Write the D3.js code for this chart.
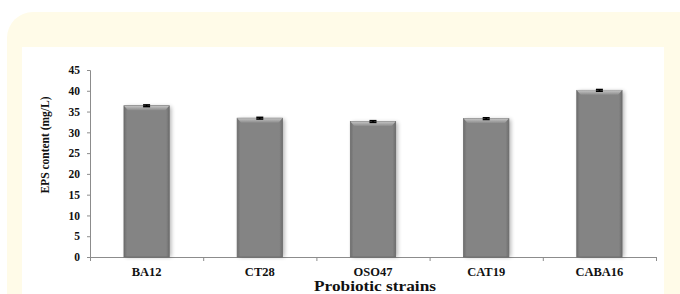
<!DOCTYPE html>
<html lang="en">
<head>
  <meta charset="UTF-8">
  <title>EPS content by probiotic strain</title>
  <script src="https://d3js.org/d3.v7.min.js"></script>
  <style>
    body { margin: 0; padding: 0; background: #fff; }
    svg { display: block; }
    .serif { font-family: "Times New Roman", "Liberation Serif", serif; font-weight: bold; fill: #111; }
    .axis path, .axis line { stroke: #8c8c8c; }
  </style>
</head>
<body>
  <svg id="chart" width="680" height="294"></svg>

  <script>
    // values
    const strains = ["BA12", "CT28", "OSO47", "CAT19", "CABA16"];
    const eps = [36.4, 33.4, 32.6, 33.3, 40.1];
    const errs = [0.2, 0.2, 0.2, 0.2, 0.2];
    const yTicks = [0, 5, 10, 15, 20, 25, 30, 35, 40, 45];

    const data = strains.map((s, i) => ({ strain: s, value: eps[i], err: errs[i] }));

    const svg = d3.select("#chart");

    // frame: cream rounded panel with white inner area
    svg.append("rect")
      .attr("x", 7).attr("y", 12)
      .attr("width", 700).attr("height", 320)
      .attr("rx", 26)
      .attr("fill", "#fffbe8");
    svg.append("rect")
      .attr("x", 22).attr("y", 47)
      .attr("width", 642).attr("height", 260)
      .attr("fill", "#fff");

    const defs = svg.append("defs");
    const grad = defs.append("linearGradient").attr("id", "barGrad")
      .attr("x1", "0").attr("x2", "1").attr("y1", "0").attr("y2", "0");
    grad.append("stop").attr("offset", "0%").attr("stop-color", "#6e6e6e");
    grad.append("stop").attr("offset", "7%").attr("stop-color", "#848484");
    grad.append("stop").attr("offset", "93%").attr("stop-color", "#848484");
    grad.append("stop").attr("offset", "100%").attr("stop-color", "#6e6e6e");
    const bevel = defs.append("linearGradient").attr("id", "bevelGrad")
      .attr("x1", "0").attr("x2", "0").attr("y1", "0").attr("y2", "1");
    bevel.append("stop").attr("offset", "0%").attr("stop-color", "#c4c4c4");
    bevel.append("stop").attr("offset", "100%").attr("stop-color", "#8c8c8c");
    const blur = defs.append("filter").attr("id", "shadow")
      .attr("x", "-20%").attr("y", "-10%").attr("width", "150%").attr("height", "130%");
    blur.append("feGaussianBlur").attr("stdDeviation", 2);

    const x0 = 90, x1 = 656, yBase = 257, yTop = 70;

    const x = d3.scaleBand()
      .domain(strains)
      .range([x0, x1])
      .paddingInner(0.6)
      .paddingOuter(0.3);

    const xBounds = d3.scaleLinear().domain([0, strains.length]).range([x0, x1]);

    const y = d3.scaleLinear()
      .domain([0, 45])
      .range([yBase, yTop]);

    // y axis
    const yAxis = svg.append("g")
      .attr("class", "axis")
      .attr("transform", `translate(${x0},0)`)
      .call(d3.axisLeft(y).tickValues(yTicks).tickSize(3).tickPadding(7));
    yAxis.selectAll("text")
      .attr("class", "serif")
      .style("font-size", "11.5px");

    // x axis with ticks on category boundaries
    svg.append("g")
      .attr("class", "axis")
      .attr("transform", `translate(0,${yBase})`)
      .call(d3.axisBottom(xBounds).tickValues(d3.range(strains.length + 1)).tickSize(4).tickFormat(""));

    svg.append("g")
      .selectAll("text")
      .data(strains)
      .join("text")
      .attr("class", "serif")
      .attr("x", d => x(d) + x.bandwidth() / 2)
      .attr("y", 276)
      .attr("text-anchor", "middle")
      .style("font-size", "12.5px")
      .text(d => d);

    // bars
    const bars = svg.append("g").selectAll("g").data(data).join("g");

    bars.append("rect")
      .attr("x", d => x(d.strain) + 2)
      .attr("y", d => y(d.value) + 1)
      .attr("width", x.bandwidth())
      .attr("height", d => yBase - y(d.value) - 1)
      .attr("fill", "#000")
      .attr("opacity", 0.3)
      .attr("filter", "url(#shadow)");

    bars.append("rect")
      .attr("x", d => x(d.strain))
      .attr("y", d => y(d.value))
      .attr("width", x.bandwidth())
      .attr("height", d => yBase - y(d.value))
      .attr("fill", "url(#barGrad)")
      .attr("stroke", "#6a6a6a")
      .attr("stroke-width", 0.8);

    // top bevel
    bars.append("path")
      .attr("d", d => {
        const l = x(d.strain), r = l + x.bandwidth(), t = y(d.value);
        return `M${l},${t} L${r},${t} L${r - 4},${t + 4.5} L${l + 4},${t + 4.5} Z`;
      })
      .attr("fill", "url(#bevelGrad)");

    // error bars
    const eb = bars.append("g").attr("stroke", "#000").attr("stroke-width", 1.6);
    eb.append("line")
      .attr("x1", d => x(d.strain) + x.bandwidth() / 2)
      .attr("x2", d => x(d.strain) + x.bandwidth() / 2)
      .attr("y1", d => y(d.value + d.err))
      .attr("y2", d => y(d.value - d.err));
    eb.append("line")
      .attr("x1", d => x(d.strain) + x.bandwidth() / 2 - 3.5)
      .attr("x2", d => x(d.strain) + x.bandwidth() / 2 + 3.5)
      .attr("y1", d => y(d.value + d.err))
      .attr("y2", d => y(d.value + d.err));
    eb.append("line")
      .attr("x1", d => x(d.strain) + x.bandwidth() / 2 - 3.5)
      .attr("x2", d => x(d.strain) + x.bandwidth() / 2 + 3.5)
      .attr("y1", d => y(d.value - d.err))
      .attr("y2", d => y(d.value - d.err));

    // axis titles
    svg.append("text")
      .attr("class", "serif")
      .attr("transform", "translate(49,145) rotate(-90)")
      .attr("text-anchor", "middle")
      .style("font-size", "11.5px")
      .text("EPS content  (mg/L)");

    svg.append("text")
      .attr("class", "serif")
      .attr("x", 375)
      .attr("y", 291)
      .attr("text-anchor", "middle")
      .attr("textLength", 122)
      .attr("lengthAdjust", "spacingAndGlyphs")
      .style("font-size", "14px")
      .text("Probiotic strains");
  </script>
</body>
</html>
